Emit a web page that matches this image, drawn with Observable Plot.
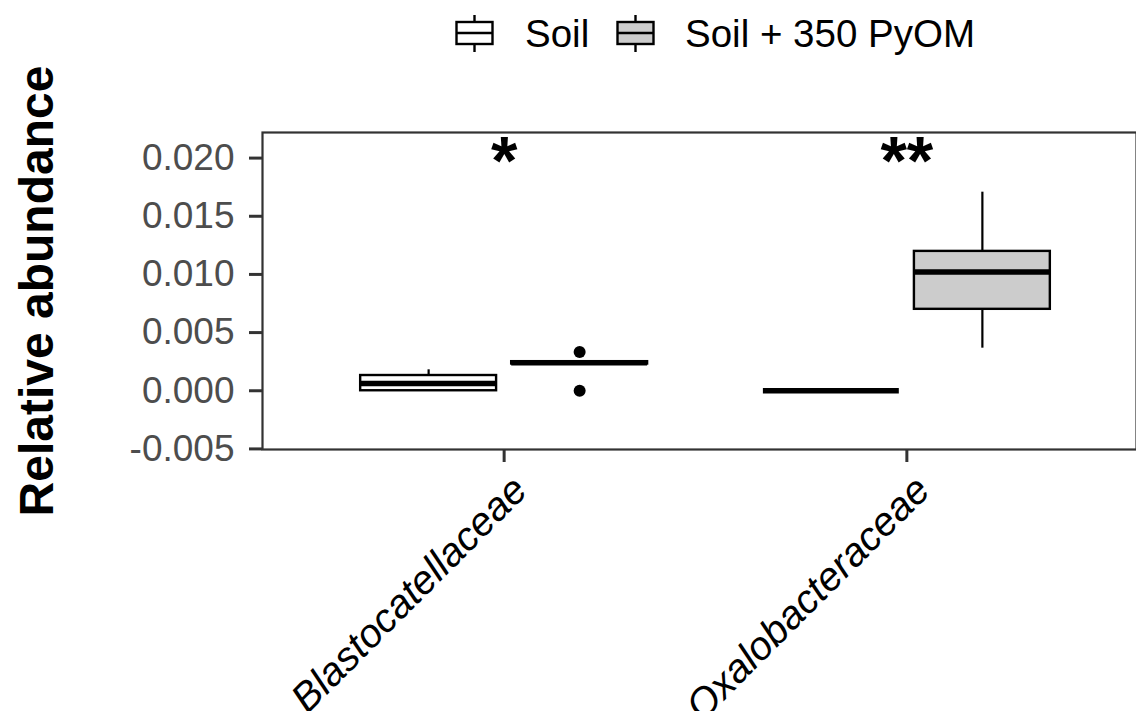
<!DOCTYPE html>
<html>
<head>
<meta charset="utf-8">
<script src="https://cdn.jsdelivr.net/npm/d3@7"></script>
<script src="https://cdn.jsdelivr.net/npm/@observablehq/plot@0.6"></script>
<style>
  html, body { margin: 0; padding: 0; background: white; }
  body { width: 1136px; height: 711px; overflow: hidden; font-family: "Liberation Sans", Arial, sans-serif; }
  #legend { position: relative; width: 1136px; height: 70px; }
  #legend .lab { position: absolute; font-size: 38.5px; line-height: 38.5px; color: #000; white-space: nowrap; }
  #legend svg.key { position: absolute; top: 13px; }
  #chart svg { display: block; }
</style>
</head>
<body>
<div id="legend"></div>
<div id="chart"></div>
<script>
// ---- data ----
const families = ["Blastocatellaceae", "Oxalobacteraceae"];
const treatments = ["Soil", "Soil + 350 PyOM"];
const treatmentFill = ["white", "#cccccc"];

const boxFamily    = ["Blastocatellaceae", "Blastocatellaceae", "Oxalobacteraceae", "Oxalobacteraceae"];
const boxTreatment = ["Soil", "Soil + 350 PyOM", "Soil", "Soil + 350 PyOM"];
const whiskerLow   = [0.0000, 0.0024, 0.0000, 0.00366];
const q1           = [0.0000, 0.0023, 0.0000, 0.00700];
const median       = [0.00062, 0.0024, 0.0000, 0.01021];
const q3           = [0.00131, 0.0025, 0.0000, 0.01198];
const whiskerHigh  = [0.0018, 0.0025, 0.0000, 0.01707];

const outlierFamily    = ["Blastocatellaceae", "Blastocatellaceae"];
const outlierTreatment = ["Soil + 350 PyOM", "Soil + 350 PyOM"];
const outlierValue     = [0.00334, 0.0000];

const sigLabels = ["*", "**"];
const sigY = [0.0219, 0.0219];

const yTicks = [-0.005, 0.000, 0.005, 0.010, 0.015, 0.020];

// ---- derived tables (ggplot-like dodge: total width 0.75, box width 0.3375) ----
const dodge = (f, t) => families.indexOf(f) + 1 + (treatments.indexOf(t) - 0.5) * 0.375;
const half = 0.16875;
const boxes = boxFamily.map((f, i) => ({
  family: f, treatment: boxTreatment[i],
  lo: whiskerLow[i], q1: q1[i], med: median[i], q3: q3[i], hi: whiskerHigh[i],
  xc: dodge(f, boxTreatment[i])
}));
boxes.forEach(d => { d.x1 = d.xc - half; d.x2 = d.xc + half; });
const outliers = outlierFamily.map((f, i) => ({ family: f, treatment: outlierTreatment[i], value: outlierValue[i], xc: dodge(f, outlierTreatment[i]) }));
const sig = sigLabels.map((s, i) => ({ label: s, x: i + 1, y: sigY[i] }));
const famPos = families.map((f, i) => ({ name: f, x: i + 1 }));

// ---- legend ----
const legend = document.getElementById("legend");
const keyLeft = [456, 617];
const labLeft = [525, 685];
treatments.forEach((t, i) => {
  const ns = "http://www.w3.org/2000/svg";
  const svg = document.createElementNS(ns, "svg");
  svg.setAttribute("class", "key");
  svg.setAttribute("width", 40);
  svg.setAttribute("height", 42);
  svg.style.left = (keyLeft[i] - 1) + "px";
  svg.innerHTML = `<line x1="19.5" x2="19.5" y1="2" y2="39" stroke="black" stroke-width="2.4"/>
    <rect x="1.5" y="9" width="36" height="22" fill="${treatmentFill[i]}" stroke="black" stroke-width="2.4"/>
    <line x1="1.5" x2="37.5" y1="20" y2="20" stroke="black" stroke-width="2.6"/>`;
  legend.appendChild(svg);
  const lab = document.createElement("div");
  lab.className = "lab";
  lab.textContent = t;
  lab.style.left = labLeft[i] + "px";
  lab.style.top = "15px";
  legend.appendChild(lab);
});

// ---- chart ----
const chart = Plot.plot({
  width: 1136,
  height: 641,
  marginTop: 62,
  marginBottom: 262,
  marginLeft: 262,
  marginRight: 0,
  style: { fontFamily: "'Liberation Sans', Arial, sans-serif", background: "white", overflow: "visible" },
  x: { type: "linear", domain: [0.4, 2.6], range: [262, 1148], axis: null },
  y: { domain: [-0.00505, 0.0222], axis: null },
  color: { domain: treatments, range: treatmentFill },
  marks: [
    Plot.dot(outliers, { x: "xc", y: "value", r: 6, fill: "black", stroke: "none" }),
    Plot.ruleX(boxes, { x: "xc", y1: "lo", y2: "q1", stroke: "black", strokeWidth: 2.2 }),
    Plot.ruleX(boxes, { x: "xc", y1: "q3", y2: "hi", stroke: "black", strokeWidth: 2.2 }),
    Plot.rect(boxes, { x1: "x1", x2: "x2", y1: "q1", y2: "q3", fill: "treatment", stroke: "black", strokeWidth: 2.4 }),
    Plot.ruleY(boxes, { y: "med", x1: "x1", x2: "x2", stroke: "black", strokeWidth: 5.5 }),
    Plot.text(sig, { x: "x", y: "y", text: "label", fontSize: 68, fontWeight: "bold", lineAnchor: "top", fill: "black" }),
    Plot.frame({ stroke: "#333333", strokeWidth: 2.2 }),
    Plot.axisY({ ticks: yTicks, tickFormat: d => d.toFixed(3), tickSize: 13, tickPadding: 15, fontSize: 37, stroke: "#333333", strokeWidth: 3, fill: "#4d4d4d", label: null }),
    Plot.axisX({ ticks: famPos.map(d => d.x), tickSize: 13, tickFormat: () => "", stroke: "#333333", strokeWidth: 3, label: null }),
    Plot.text(famPos, { x: "x", frameAnchor: "bottom", text: "name", rotate: -45, textAnchor: "end", lineAnchor: "top", dx: 5, dy: 23, fontSize: 40, fontStyle: "italic", fill: "black" }),
    Plot.text(["Relative abundance"], { frameAnchor: "left", dx: -210, rotate: -90, textAnchor: "middle", lineAnchor: "bottom", fontSize: 48, fontWeight: "bold", fill: "black" })
  ]
});
document.getElementById("chart").appendChild(chart);
</script>
</body>
</html>
